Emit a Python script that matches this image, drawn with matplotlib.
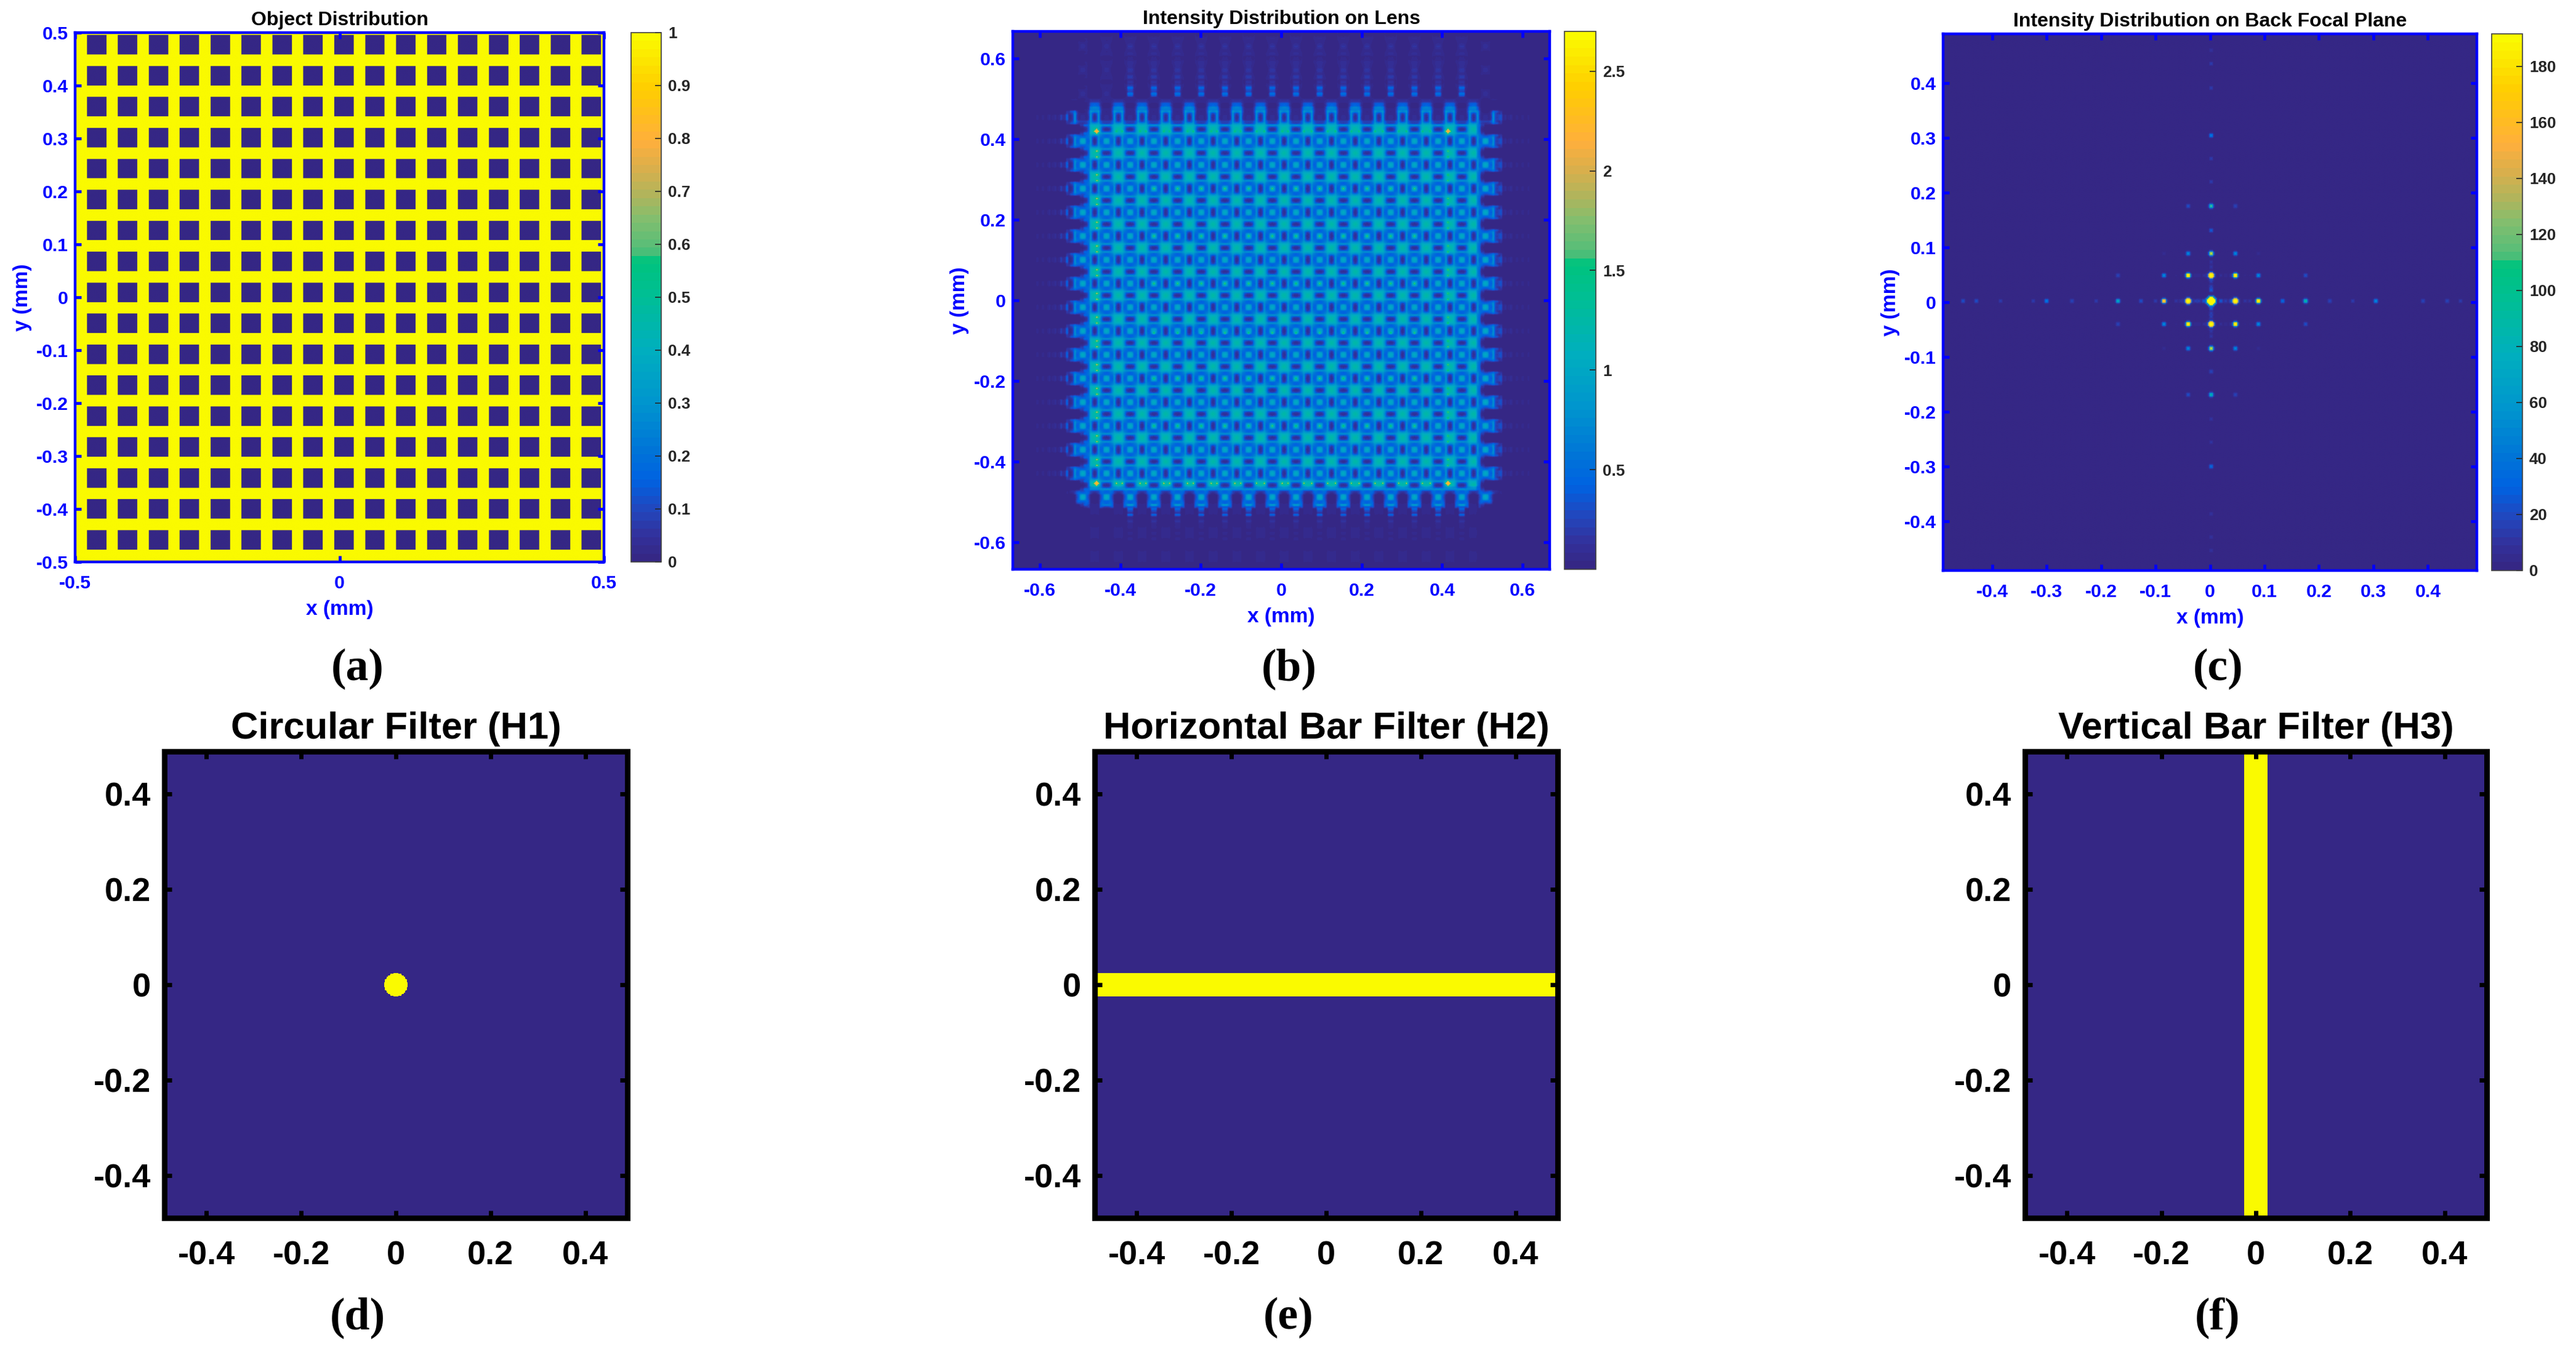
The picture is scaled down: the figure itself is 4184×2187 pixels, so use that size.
import numpy as np
import matplotlib
matplotlib.use("Agg")
import matplotlib.pyplot as plt
from matplotlib.colors import LinearSegmentedColormap

FIG_W, FIG_H = 4184, 2187
plt.rcParams["font.family"] = ["Liberation Sans", "DejaVu Sans"]
plt.rcParams["font.weight"] = "bold"

BLUE = "#0000ff"
BLACK = "#000000"
BAR_TEXT = "#262626"

# colour scale
cmap_stops = [0.0, 0.04, 0.09, 0.15, 0.2, 0.3, 0.4, 0.5, 0.57, 0.585, 0.6, 0.65, 0.7, 0.75, 0.8, 0.9, 1.0]
cmap_colors = ["#352785", "#33309a", "#2345bc", "#0062e2", "#0072d8", "#0096ce", "#00afbe", "#00be96",
               "#00c37d", "#46be78", "#5abe78", "#82be6e", "#b4b45a", "#dcaf4b", "#ffaf3c", "#ffcd00", "#fafa00"]
parula = LinearSegmentedColormap.from_list("parula_like", list(zip(cmap_stops, cmap_colors)), N=64)

# (a) object: edges of the dark squares, mm
square_left = [-0.478, -0.4195, -0.361, -0.3025, -0.244, -0.1855, -0.127, -0.0685, -0.01,
               0.0485, 0.107, 0.1655, 0.224, 0.2825, 0.341, 0.3995, 0.458]
square_top = [0.4957, 0.4372, 0.3787, 0.3202, 0.2617, 0.2032, 0.1447, 0.0862, 0.0277,
              -0.0308, -0.0893, -0.1478, -0.2063, -0.2648, -0.3233, -0.3818, -0.4403]
square_size = 0.0368

# (b) lens intensity: one quadrant of the repeating motif, ring centre at [0][0]
motif = [
    [1.05, 0.95, 0.45, 0.40, 0.80, 0.22, 0.08],
    [0.95, 0.85, 0.45, 0.45, 0.80, 0.25, 0.10],
    [0.45, 0.45, 0.50, 0.55, 0.75, 0.35, 0.22],
    [0.40, 0.45, 0.55, 0.65, 0.85, 0.75, 0.70],
    [0.80, 0.80, 0.75, 0.85, 1.05, 1.05, 1.05],
    [0.22, 0.25, 0.35, 0.75, 1.05, 1.15, 1.20],
    [0.08, 0.10, 0.22, 0.70, 1.05, 1.20, 1.25],
]
ring_weight = [1.0, 1.0, 1.0, 0.6, 0.0, 0.0, 0.0]
ring_col_x0 = -0.434
ring_row_y0 = 0.394
lens_period = 0.059

# edge fall-off of the pattern, as steps
row_edge_x = [-0.535, -0.525, -0.515, 0.53, 0.54, 0.55]
row_edge_x_level = [0.0, 0.3, 0.8, 1.0, 0.8, 0.3, 0.0]
gap_edge_x = [-0.50, -0.49, -0.48, 0.485, 0.495, 0.505]
gap_edge_x_level = [0.0, 0.25, 0.6, 1.0, 0.6, 0.25, 0.0]
col_edge_y = [-0.515, -0.505, 0.435, 0.445]
col_edge_y_level = [0.0, 0.8, 1.0, 0.5, 0.1]
gap_edge_y = [-0.485, -0.475, -0.465, 0.47, 0.48, 0.49, 0.50]
gap_edge_y_level = [0.05, 0.3, 0.7, 1.0, 0.6, 0.35, 0.15, 0.0]

# faint stripes outside the pattern, by distance from the centre
side_edge = [0.53, 0.55, 0.58, 0.62]
side_level = [0.0, 0.22, 0.10, 0.06, 0.03]
topbot_edge = [0.505, 0.535, 0.56, 0.60, 0.64]
topbot_level = [0.0, 0.45, 0.15, 0.07, 0.04, 0.02]
stripe_fine = [1.0, 0.35, 0.6]

# bright spots in (b)
hot_corner_x = [-0.459, 0.416, -0.459, 0.416]
hot_corner_y = [0.418, 0.418, -0.456, -0.456]
hot_corner_v = [2.45, 2.35, 2.5, 2.5]
hot_row_x = [-0.413, -0.398, -0.354, -0.336, -0.294, -0.278, -0.236, -0.218, -0.177, -0.160, -0.118, -0.100,
             -0.060, -0.042, 0.000, 0.016, 0.058, 0.076, 0.116, 0.134, 0.176, 0.194, 0.234, 0.252, 0.294, 0.312,
             0.352, 0.370]
hot_col_y = [0.371, 0.356, 0.312, 0.296, 0.253, 0.237, 0.194, 0.178, 0.135, 0.119, 0.076, 0.060, 0.017, 0.001,
             -0.042, -0.058, -0.101, -0.117, -0.160, -0.176, -0.219, -0.235, -0.278, -0.294, -0.337, -0.353,
             -0.396, -0.412]
dot_rows = [0.276, 0.157, 0.040, -0.080, -0.195, -0.311]
dot_cols = [-0.316, -0.257, -0.198, -0.139, -0.080, -0.021, 0.038, 0.097, 0.156, 0.215, 0.274, 0.333]

# (c) back focal plane: diffraction orders, (mm, height)
axis_x = [-0.455, -0.43, -0.385, -0.325, -0.30, -0.255, -0.21, -0.17, -0.127, -0.10, -0.084, -0.04,
          0.047, 0.09, 0.134, 0.176, 0.22, 0.263, 0.306, 0.393, 0.436, 0.46]
axis_x_amp = [25, 25, 15, 15, 50, 20, 15, 90, 25, 15, 250, 880, 880, 300, 40, 110, 20, 15, 60, 20, 20, 15]
axis_y = [0.048, 0.09, 0.132, 0.176, 0.22, 0.263, 0.306, 0.393, 0.436, 0.46,
          -0.04, -0.084, -0.127, -0.17, -0.213, -0.257, -0.30, -0.388, -0.43, -0.455]
axis_y_amp = [880, 200, 30, 120, 15, 15, 50, 15, 15, 10, 880, 200, 20, 100, 12, 12, 40, 10, 10, 10]
row1_x = [-0.17, -0.084, -0.04, 0.047, 0.09, 0.176]
row1_amp = [20, 60, 300, 300, 60, 25]
row2_x = [-0.084, -0.04, 0.047, 0.09]
row2_amp = [6, 60, 60, 6]
row3_x = [-0.04, 0.047]
row3_amp = [25, 20]
lobe_offset = [0.0185, 0.027, 0.035, -0.0135, -0.022, -0.03, -0.0565, -0.065, 0.062, 0.071]
lobe_amp = [30, 18, 18, 30, 18, 18, 14, 14, 14, 14]
center_x, center_y, center_amp = 0.0025, 0.003, 8000
spot_profile = [1.0, 0.6, 0.16, 0.03, 0.006, 0.001]

# (d)-(f) filters, mm
filter_half = 0.0245

tick_labels_a_y = [-0.5, -0.4, -0.3, -0.2, -0.1, 0, 0.1, 0.2, 0.3, 0.4, 0.5]
tick_labels_b = [-0.6, -0.4, -0.2, 0, 0.2, 0.4, 0.6]
tick_labels_c = [-0.4, -0.3, -0.2, -0.1, 0, 0.1, 0.2, 0.3, 0.4]
tick_labels_f = [-0.4, -0.2, 0, 0.2, 0.4]
cbar_ticks_a = [0, 0.1, 0.2, 0.3, 0.4, 0.5, 0.6, 0.7, 0.8, 0.9, 1]
cbar_ticks_b = [0.5, 1, 1.5, 2, 2.5]
cbar_ticks_c = [0, 20, 40, 60, 80, 100, 120, 140, 160, 180]


def ax_px(fig, left, top, right, bottom):
    return fig.add_axes([left / FIG_W, 1 - bottom / FIG_H, (right - left) / FIG_W, (bottom - top) / FIG_H])


def step(values, edges, levels):
    return np.array(levels)[np.searchsorted(edges, values)]


def object_image():
    x = np.linspace(-0.5, 0.5, 1600)
    y = np.linspace(-0.5, 0.5, 1600)
    img = np.ones((y.size, x.size))
    for top in square_top:
        for left in square_left:
            rows = (y <= top) & (y >= top - square_size)
            cols = (x >= left) & (x <= left + square_size)
            img[np.ix_(rows, cols)] = 0
    return img


def lens_image():
    dx = lens_period / 12
    x = np.arange(-0.667, 0.667 + dx / 2, dx)
    y = np.arange(-0.667, 0.667 + dx / 2, dx)
    kx = np.rint((x - ring_col_x0) / dx).astype(int) % 12
    ky = np.rint((y - ring_row_y0) / dx).astype(int) % 12
    qx = np.minimum(kx, 12 - kx)
    qy = np.minimum(ky, 12 - ky)

    cell = np.array(motif)
    img = cell[np.ix_(qy, qx)]

    wx = np.array(ring_weight)[qx]
    wy = np.array(ring_weight)[qy]
    fade_x = np.outer(wy, step(x, row_edge_x, row_edge_x_level)) + np.outer(1 - wy, step(x, gap_edge_x, gap_edge_x_level))
    fade_y = np.outer(step(y, col_edge_y, col_edge_y_level), wx) + np.outer(step(y, gap_edge_y, gap_edge_y_level), 1 - wx)
    img = img * fade_x * fade_y

    fine = np.array(stripe_fine)
    fine_x = fine[np.arange(x.size) % 3]
    fine_y = fine[np.arange(y.size) % 3]
    row_mask = ((qy <= 1) & (y > -0.45) & (y < 0.47)).astype(float)
    col_mask = ((qx <= 1) & (x > -0.42) & (x < 0.47)).astype(float)
    img = img + np.outer(row_mask, step(np.abs(x), side_edge, side_level) * fine_x)
    img = img + np.outer(step(np.abs(y), topbot_edge, topbot_level) * fine_y, col_mask)

    def put(px, py, val):
        i = np.argmin(np.abs(x - px))
        j = np.argmin(np.abs(y - py))
        img[j, i] = max(img[j, i], val)

    for hx in hot_row_x:
        put(hx, 0.418, 1.6)
        put(hx, -0.456, 2.0)
    for hy in hot_col_y:
        put(-0.459, hy, 1.95)
        put(-0.459 + dx, hy, 1.5)
        put(0.416, hy, 1.7)
    for py in dot_rows:
        for px in dot_cols:
            put(px, py, 1.7)
    for px, py, val in zip(hot_corner_x, hot_corner_y, hot_corner_v):
        put(px, py, val)
        put(px + dx, py, val * 0.85)
        put(px - dx, py, val * 0.85)
        put(px, py + dx, val * 0.85)
        put(px, py - dx, val * 0.85)
    return img


def focal_image():
    x = np.linspace(-0.49, 0.49, 441)
    y = np.linspace(-0.49, 0.49, 441)
    dx = x[1] - x[0]
    img = np.zeros((y.size, x.size))
    profile = np.array(spot_profile + [0.0])

    def spot(px, py, amp):
        i = int(np.rint((px - x[0]) / dx))
        j = int(np.rint((py - y[0]) / dx))
        for b in range(-5, 6):
            for a in range(-5, 6):
                if 0 <= j + b < y.size and 0 <= i + a < x.size:
                    d = min(int(round(np.hypot(a, b))), 6)
                    img[j + b, i + a] += amp * profile[d]

    spot(center_x, center_y, center_amp)
    for px, amp in zip(axis_x, axis_x_amp):
        spot(px, center_y, amp)
    for py, amp in zip(axis_y, axis_y_amp):
        spot(center_x, py, amp)
    for py in [0.048, -0.04]:
        for px, amp in zip(row1_x, row1_amp):
            spot(px, py, amp)
    for py in [0.09, -0.084]:
        for px, amp in zip(row2_x, row2_amp):
            spot(px, py, amp)
    for py in [0.176, -0.17]:
        for px, amp in zip(row3_x, row3_amp):
            spot(px, py, amp)
    for off, amp in zip(lobe_offset, lobe_amp):
        spot(center_x + off, center_y, amp)
        spot(center_x, center_y + off, amp)
        spot(center_x + off, 0.048, amp * 0.3)
        spot(center_x + off, -0.04, amp * 0.3)
    return img


def filter_image(kind):
    x = np.linspace(-0.489, 0.489, 512)
    y = np.linspace(-0.489, 0.489, 512)
    xx, yy = np.meshgrid(x, y)
    if kind == "circle":
        return (np.hypot(xx, yy) <= filter_half).astype(float)
    if kind == "hbar":
        return (np.abs(yy) <= filter_half).astype(float)
    return (np.abs(xx) <= filter_half + 0.001).astype(float)


def style_axes(ax, color, spine_w, tick_w, tick_l, size, xticks, yticks, pad_x, pad_y):
    for spine in ax.spines.values():
        spine.set_linewidth(spine_w)
        spine.set_color(color)
    ax.set_xticks(xticks)
    ax.set_yticks(yticks)
    ax.set_xticklabels([f"{v:g}" for v in xticks])
    ax.set_yticklabels([f"{v:g}" for v in yticks])
    ax.tick_params(axis="both", direction="in", top=True, right=True, width=tick_w, length=tick_l,
                   color=color, labelcolor=color, labelsize=size)
    ax.tick_params(axis="x", pad=pad_x)
    ax.tick_params(axis="y", pad=pad_y)


def top_panel(fig, box, cbox, img, limit, interp, vmin, vmax, title, xticks, yticks, cticks, ylabel_px):
    ax = ax_px(fig, *box)
    im = ax.imshow(img, cmap=parula, vmin=vmin, vmax=vmax, extent=[-limit, limit, -limit, limit],
                   origin="lower", aspect="auto", interpolation=interp)
    style_axes(ax, BLUE, 3.2, 3.4, 7.5, 21.7, xticks, yticks, 15, 8)
    ax.set_xlim(-limit, limit)
    ax.set_ylim(-limit, limit)
    ax.set_title(title, fontsize=23, fontweight="bold", color=BLACK, pad=9)
    ax.set_xlabel("x (mm)", fontsize=24, fontweight="bold", color=BLUE, va="center")
    ax.set_ylabel("y (mm)", fontsize=24, fontweight="bold", color=BLUE, va="center")
    width = box[2] - box[0]
    height = box[3] - box[1]
    ax.xaxis.set_label_coords(0.5, -78 / height)
    ax.yaxis.set_label_coords((ylabel_px - box[0]) / width, 0.5)

    cax = ax_px(fig, *cbox)
    cb = fig.colorbar(im, cax=cax, ticks=cticks)
    cb.ax.set_yticklabels([f"{v:g}" for v in cticks])
    cb.ax.tick_params(direction="in", length=7, width=1.2, color=BAR_TEXT, labelcolor=BAR_TEXT,
                      labelsize=18.7, pad=8)
    cb.outline.set_linewidth(1.2)
    cb.outline.set_edgecolor("#404040")
    return ax


def filter_panel(fig, box, kind, title):
    ax = ax_px(fig, *box)
    lim = 0.489
    ax.imshow(filter_image(kind), cmap=parula, vmin=0, vmax=1, extent=[-lim, lim, -lim, lim],
              origin="lower", aspect="auto", interpolation="nearest")
    style_axes(ax, BLACK, 6.5, 5, 8.3, 39, tick_labels_f, tick_labels_f, 26, 16)
    ax.set_xlim(-lim, lim)
    ax.set_ylim(-lim, lim)
    ax.set_title(title, fontsize=44.3, fontweight="bold", color=BLACK, pad=15)
    return ax


def plot():
    fig = plt.figure(figsize=(FIG_W / 100, FIG_H / 100), dpi=100, facecolor="white")

    top_panel(fig, (122, 53, 981, 913), (1025, 53, 1074, 913), object_image(), 0.5, "antialiased", 0, 1,
              "Object Distribution", [-0.5, 0, 0.5], tick_labels_a_y, cbar_ticks_a, 37)
    top_panel(fig, (1645, 51, 2517, 925), (2541, 51, 2592, 925), lens_image(), 0.667, "bilinear", 0, 2.7,
              "Intensity Distribution on Lens", tick_labels_b, tick_labels_b, cbar_ticks_b, 1559)
    top_panel(fig, (3156, 55, 4023, 927), (4047, 55, 4097, 927), focal_image(), 0.49, "bilinear", 0, 191.6,
              "Intensity Distribution on Back Focal Plane", tick_labels_c, tick_labels_c, cbar_ticks_c, 3070)

    filter_panel(fig, (267, 1221, 1019, 1979), "circle", "Circular Filter (H1)")
    filter_panel(fig, (1778, 1221, 2530, 1979), "hbar", "Horizontal Bar Filter (H2)")
    filter_panel(fig, (3289, 1221, 4039, 1979), "vbar", "Vertical Bar Filter (H3)")

    captions = ["(a)", "(b)", "(c)", "(d)", "(e)", "(f)"]
    caption_x = [581, 2094, 3603, 581, 2093, 3602]
    caption_y = [1087, 1087, 1087, 2141, 2141, 2141]
    for label, cx, cy in zip(captions, caption_x, caption_y):
        fig.text(cx / FIG_W, 1 - cy / FIG_H, label, fontsize=53, fontweight="bold", color=BLACK,
                 family=["Liberation Serif", "DejaVu Serif"], ha="center", va="center")

    fig.savefig("out.png", dpi=100, facecolor="white")


plot()
